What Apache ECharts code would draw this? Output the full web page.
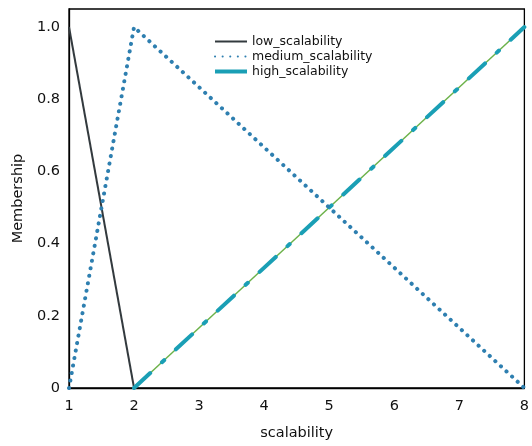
<!DOCTYPE html>
<html><head><meta charset="utf-8">
<script src="https://cdn.jsdelivr.net/npm/echarts@6/dist/echarts.min.js"></script>
<style>html,body{margin:0;padding:0;background:#fff}#c{width:532px;height:446px}</style>
</head><body><div id="c"></div>
<script>
const xTicks = [1, 2, 3, 4, 5, 6, 7, 8];
const yTicks = [0, 0.2, 0.4, 0.6, 0.8, 1.0];
const lowX = [1, 2];
const lowY = [1, 0];
const mediumX = [1, 2, 8];
const mediumY = [0, 1, 0];
const highX = [2, 8];
const highY = [0, 1];
const seriesNames = ['low_scalability', 'medium_scalability', 'high_scalability'];

const pairs = (xs, ys) => xs.map((x, i) => [x, ys[i]]);
const font = '"DejaVu Sans", sans-serif';
const chart = echarts.init(document.getElementById('c'));
chart.setOption({
  animation: false,
  backgroundColor: '#fff',
  grid: { left: 69, right: 3, top: 9, bottom: 58, show: true, borderColor: '#000', borderWidth: 1.3 },
  legend: {
    left: 208, top: 30, orient: 'vertical', itemGap: 2, itemWidth: 32, itemHeight: 12,
    itemStyle: { opacity: 0 },
    textStyle: { fontFamily: font, fontSize: 12.5, color: '#111' },
    data: [
      { name: seriesNames[0] },
      { name: seriesNames[1] },
      { name: seriesNames[2], lineStyle: { type: 'solid', width: 4, cap: 'butt' } }
    ]
  },
  xAxis: {
    type: 'value', min: 1, max: 8, interval: 1,
    name: 'scalability', nameLocation: 'middle', nameGap: 38,
    nameTextStyle: { fontFamily: font, fontSize: 14.5, color: '#111' },
    axisLine: { show: true, lineStyle: { color: '#000', width: 1.3 } },
    axisTick: { show: false },
    axisLabel: { fontFamily: font, fontSize: 14.5, color: '#111', margin: 11 },
    splitLine: { show: false }
  },
  yAxis: {
    type: 'value', min: 0, max: 1.05, interval: 0.2,
    name: 'Membership', nameLocation: 'middle', nameGap: 39,
    nameTextStyle: { fontFamily: font, fontSize: 14.5, color: '#111' },
    axisLine: { show: true, lineStyle: { color: '#000', width: 1.3 } },
    axisTick: { show: false },
    axisLabel: { fontFamily: font, fontSize: 14.5, color: '#111', margin: 9,
      formatter: v => (yTicks.some(t => Math.abs(t - v) < 1e-9) ? (v === 0 ? '0' : v.toFixed(1)) : '') },
    splitLine: { show: false }
  },
  series: [
    { name: seriesNames[0], type: 'line', data: pairs(lowX, lowY), showSymbol: false, symbol: 'none',
      color: '#333a3e', lineStyle: { color: '#333a3e', width: 2 }, z: 3 },
    { name: seriesNames[1], type: 'line', data: pairs(mediumX, mediumY), showSymbol: false, symbol: 'none',
      color: '#2e7fb0', lineStyle: { color: '#2e7fb0', width: 4, type: [0.1, 7.5], cap: 'round' }, z: 4 },
    { name: 'high_base', type: 'line', data: pairs(highX, highY), showSymbol: false, symbol: 'none',
      color: '#6cb24a', lineStyle: { color: '#6cb24a', width: 1.5 }, z: 2 },
    { name: seriesNames[2], type: 'line', data: pairs(highX, highY), showSymbol: false, symbol: 'none',
      color: '#1a9fb5', lineStyle: { color: '#1a9fb5', width: 4, type: [22, 16, 3, 16], cap: 'round' }, z: 3 }
  ]
});
</script></body></html>
